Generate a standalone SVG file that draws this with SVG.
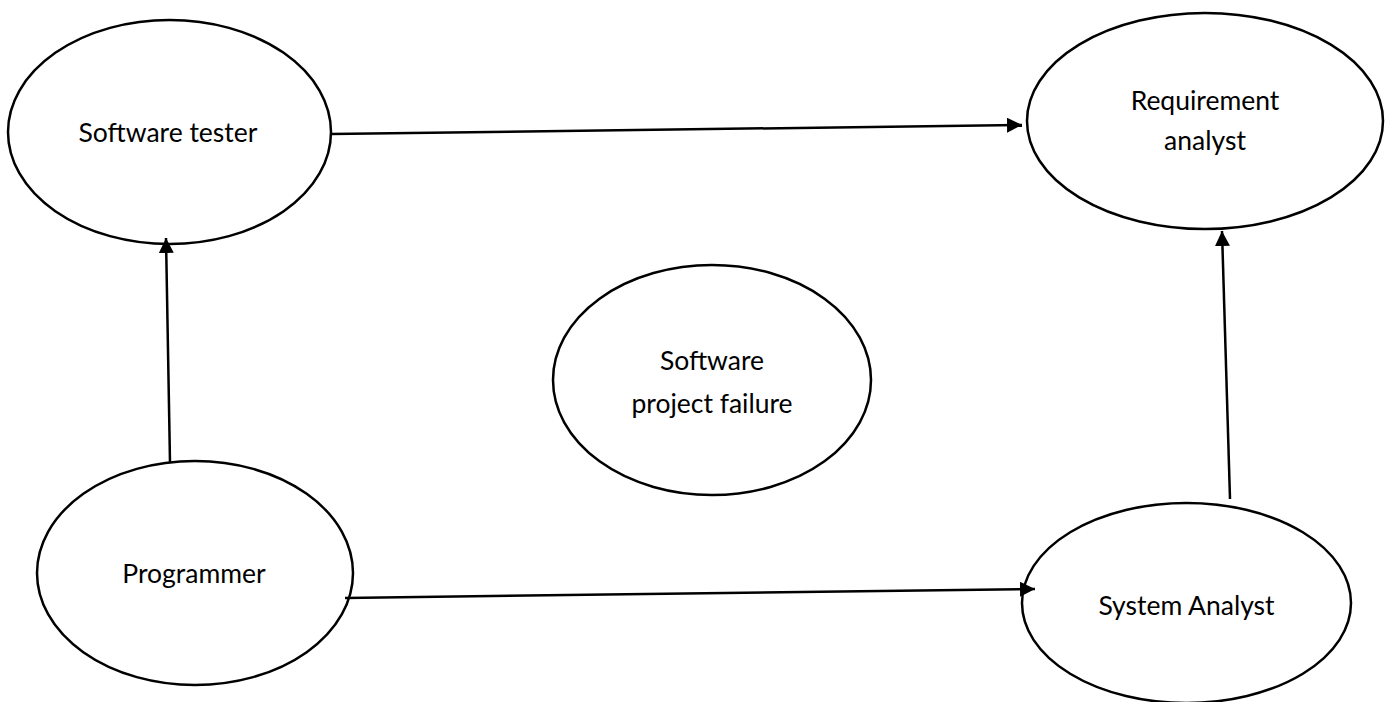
<svg xmlns="http://www.w3.org/2000/svg" width="1390" height="702" viewBox="0 0 1390 702">
  <style>
    .node ellipse { fill: #ffffff; stroke: #000000; stroke-width: 2.5; }
    .node text { font-family: Lato, "Open Sans", sans-serif; font-size: 26.5px; fill: #000000; text-anchor: middle; }
    .edge { stroke: #000000; stroke-width: 2.5; fill: none; marker-end: url(#arrow); }
  </style>
  <defs>
    <marker id="arrow" viewBox="0 0 10 10" refX="10" refY="5" markerWidth="6" markerHeight="6" markerUnits="strokeWidth" orient="auto">
      <path d="M0,0 L10,5 L0,10 Z" fill="#000000"/>
    </marker>
  </defs>
  <rect width="1390" height="702" fill="#ffffff"/>

  <g id="software-tester" class="node">
    <ellipse cx="169.5" cy="132" rx="161.5" ry="112"/>
    <text x="168" y="141.5">Software tester</text>
  </g>

  <g id="requirement-analyst" class="node">
    <ellipse cx="1205" cy="121" rx="178" ry="108"/>
    <text x="1205" y="109.5">Requirement</text>
    <text x="1205" y="149.5">analyst</text>
  </g>

  <g id="project-failure" class="node">
    <ellipse cx="712" cy="380" rx="159" ry="115"/>
    <text x="712" y="369.5">Software</text>
    <text x="712" y="412.5">project failure</text>
  </g>

  <g id="programmer" class="node">
    <ellipse cx="195" cy="573" rx="158" ry="112"/>
    <text x="194" y="582.5">Programmer</text>
  </g>

  <g id="system-analyst" class="node">
    <ellipse cx="1186.5" cy="603" rx="164.5" ry="100"/>
    <text x="1186.5" y="614.5">System Analyst</text>
  </g>

  <g id="connectors">
    <line class="edge" x1="331" y1="134" x2="1022" y2="125"/>
    <line class="edge" x1="170" y1="462" x2="166" y2="238"/>
    <line class="edge" x1="345" y1="598" x2="1035" y2="589"/>
    <line class="edge" x1="1230" y1="499" x2="1222" y2="231"/>
  </g>
</svg>
